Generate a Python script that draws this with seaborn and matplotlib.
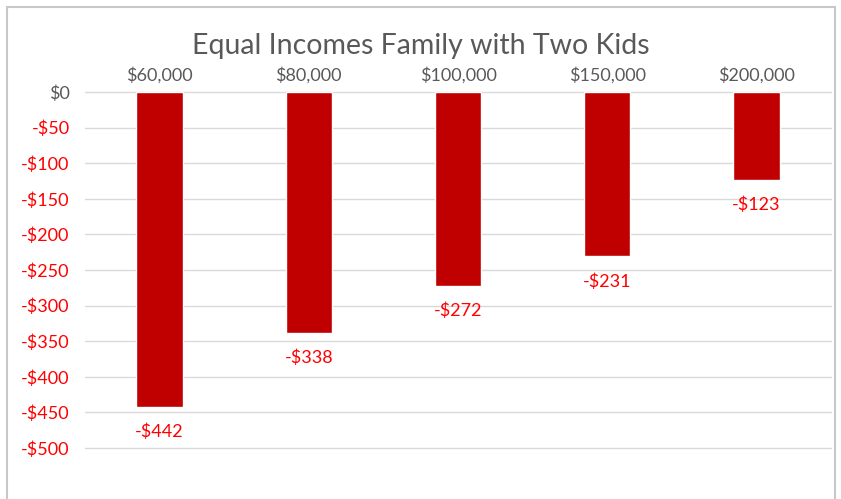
import matplotlib
matplotlib.use("Agg")
import matplotlib.pyplot as plt
import seaborn as sns
import pandas as pd
from matplotlib.patches import Rectangle

categories = ["$60,000", "$80,000", "$100,000", "$150,000", "$200,000"]
values = [-442, -338, -272, -231, -123]
label_texts = ["-$442", "-$338", "-$272", "-$231", "-$123"]
yticks = [0, -50, -100, -150, -200, -250, -300, -350, -400, -450, -500]
ytick_labels = ["$0", "-$50", "-$100", "-$150", "-$200", "-$250", "-$300",
                "-$350", "-$400", "-$450", "-$500"]
title = "Equal Incomes Family with Two Kids"

sns.set_theme(style="white")
plt.rcParams['font.family'] = ['Lato', 'DejaVu Sans']

W, H = 841, 499
fig = plt.figure(figsize=(W / 100, H / 100), dpi=100)
fig.patch.set_facecolor("white")

# chart border
fig.patches.append(Rectangle((7 / W, -0.1), (835 - 7) / W, (H - 7) / H + 0.1,
                             transform=fig.transFigure, fill=False,
                             edgecolor="#C8C8C8", linewidth=1.5))

left, right = 85, 831
top, bottom = 92, 448
ax = fig.add_axes([left / W, 1 - bottom / H, (right - left) / W, (bottom - top) / H])

df = pd.DataFrame({"cat": categories, "val": values})
sns.barplot(data=df, x="cat", y="val", color="#C00000", width=0.31,
            saturation=1, ax=ax, zorder=3)

ax.set_ylim(-500, 0)
ax.set_xlim(-0.5, len(categories) - 0.5)
ax.set_yticks(yticks)
ax.set_yticklabels(ytick_labels)
for t, v in zip(ax.get_yticklabels(), yticks):
    t.set_color("#595959" if v == 0 else "#FF0000")
    t.set_fontsize(13)
ax.tick_params(axis="y", length=0, pad=11)
ax.xaxis.tick_top()
ax.tick_params(axis="x", length=0, pad=6, labelsize=13, labelcolor="#595959")
ax.set_xlabel("")
ax.set_ylabel("")
for s in ax.spines.values():
    s.set_visible(False)
for gl in ax.get_ygridlines():
    pass
ax.grid(axis="y", color="#D9D9D9", linewidth=1, zorder=0)
for gl in ax.get_ygridlines():
    gl.set_clip_on(False)
ax.set_axisbelow(True)

ax.bar_label(ax.containers[0], labels=label_texts, padding=12,
             color="#FF0000", fontsize=13)

fig.text(421 / W, 1 - 46 / H, title, ha="center", va="center",
         fontsize=20.5, color="#595959")

fig.savefig("out.png", dpi=100, facecolor="white")
